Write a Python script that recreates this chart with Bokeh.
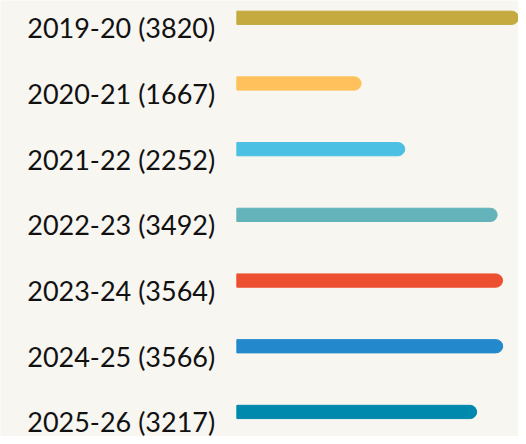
from bokeh.plotting import figure
from bokeh.models import Range1d, ColumnDataSource
from bokeh.core.properties import value
from bokeh.embed import file_html
from bokeh.resources import INLINE

seasons = ["2019-20", "2020-21", "2021-22", "2022-23", "2023-24", "2024-25", "2025-26"]
counts = [3820, 1667, 2252, 3492, 3564, 3566, 3217]
colors = ["#c4aa3f", "#ffc15b", "#4cc0e3", "#64b3ba", "#ec5030", "#2489cc", "#0088ad"]

W, H = 518, 436
SX = W / 526.0
SY = H / 444.0
PX_PER_UNIT = 0.0757 * SX
ZERO_PX = 240 * SX     # x of the bar base inside the figure
ROW_PX = 66.9 * SY
TOP_PX = 17.6 * SY     # first bar centre inside the figure

idx = list(range(len(seasons)))
labels = [f"{s} ({c})" for s, c in zip(seasons, counts)]
src = ColumnDataSource(dict(y=idx, right=counts, color=colors, label=labels))

x0 = -ZERO_PX / PX_PER_UNIT
x1 = (W - ZERO_PX) / PX_PER_UNIT
y_top = -TOP_PX / ROW_PX
y_bot = (H - TOP_PX) / ROW_PX

p = figure(width=W, height=H, output_backend="svg", toolbar_location=None,
           x_range=Range1d(x0, x1), y_range=Range1d(y_bot, y_top),
           min_border=0, outline_line_color=None,
           background_fill_color="#f8f6f1", border_fill_color="#f8f6f1")
p.axis.visible = False
p.grid.visible = False

bar_h = 13.5 * SY / ROW_PX
p.hbar(y="y", left=0, right="right", height=bar_h, color="color", source=src,
       border_radius=(0, 7, 7, 0))

p.text(x=0, y="y", text="label", source=src, x_offset=-22 * SX, y_offset=10,
       text_align="right", text_baseline="alphabetic",
       text_font=value("Lato"), text_font_size="27px", text_color="#111111")

open("out.html", "w").write(file_html(p, INLINE))
